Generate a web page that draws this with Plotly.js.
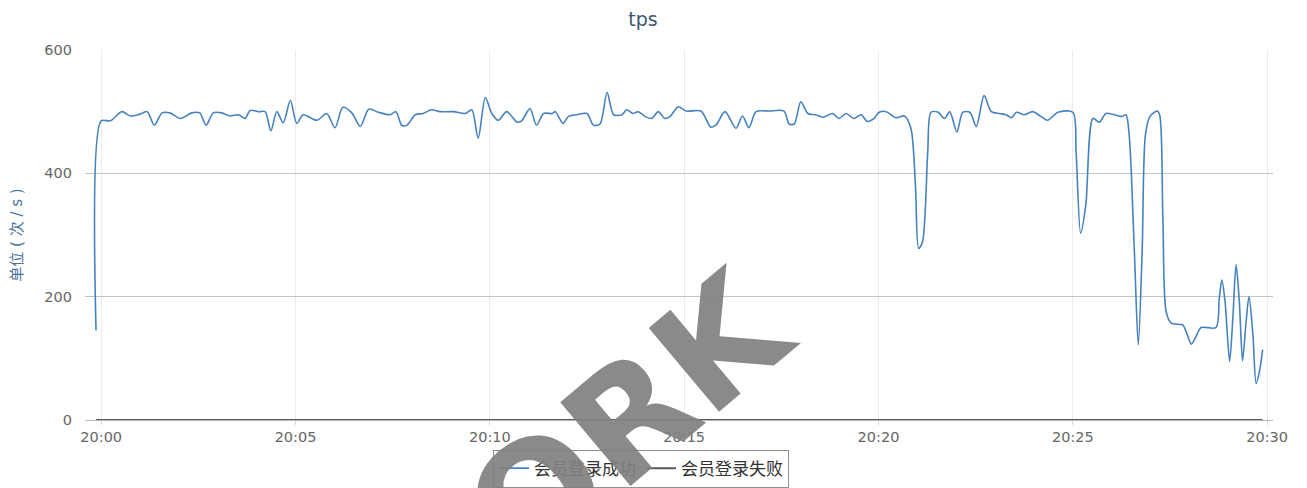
<!DOCTYPE html>
<html>
<head>
<meta charset="utf-8">
<script src="https://cdn.plot.ly/plotly-3.0.1.min.js"></script>
<style>html,body{margin:0;padding:0;background:#fff;}#chart{width:1307px;height:488px;}</style>
</head>
<body>
<div id="chart"></div>
<script>
// seconds after 20:00:00
const successSeconds = [-8,0,14,32,45,60,71,82,94,106,122,140,152,162,173,186,199,212,222,230,243,253,262,271,281,292,302,312,333,348,361,373,387,400,413,428,446,455,464,472,485,497,510,523,544,562,572,582,593,603,613,626,642,649,662,672,683,696,701,713,721,734,750,760,770,781,791,804,811,821,829,840,850,860,870,878,891,903,926,941,949,963,980,990,1000,1011,1031,1054,1062,1070,1080,1091,1103,1114,1129,1139,1150,1162,1173,1183,1193,1201,1212,1227,1240,1250,1257,1262,1268,1276,1281,1292,1302,1310,1321,1330,1341,1351,1363,1374,1387,1397,1405,1413,1425,1438,1451,1461,1477,1500,1505,1512,1520,1531,1541,1551,1564,1575,1582,1587,1595,1601,1607,1612,1619,1630,1634,1639,1644,1652,1670,1675,1683,1690,1698,1721,1726,1730,1735,1742,1747,1752,1757,1762,1767,1772,1778,1783,1788,1793];
const successTps = [145,485,485,500,493,496,500,478,498,498,489,498,498,478,498,498,493,495,489,502,500,500,469,500,482,518,481,495,486,497,474,507,498,476,504,499,495,500,478,478,495,497,503,500,500,497,503,457,523,497,486,500,483,485,505,478,497,497,500,481,492,495,497,478,480,531,495,495,503,497,500,492,489,500,489,492,508,501,501,475,478,500,473,493,474,500,501,501,480,480,516,497,495,491,497,489,497,489,495,484,489,499,500,490,493,473,381,278,289,435,499,499,489,500,467,499,499,476,526,500,497,495,490,499,495,500,492,486,499,499,435,303,349,489,483,497,495,492,495,462,273,122,273,462,492,501,495,327,176,157,154,143,123,135,150,150,197,227,192,95,165,252,192,96,154,200,138,59,78,114];
const failSeconds = [-8, 1793];
const failTps = [0, 0];
const tickSeconds = [0, 300, 600, 900, 1200, 1500, 1800];
const tickLabels = ['20:00', '20:05', '20:10', '20:15', '20:20', '20:25', '20:30'];
const seriesNames = ['会员登录成功', '会员登录失败'];

const FONT = '"DejaVu Sans", "Noto Sans CJK SC", sans-serif';

const traces = [
  {
    x: successSeconds, y: successTps, name: seriesNames[0], type: 'scatter', mode: 'lines',
    line: {color: '#4682c0', width: 1.6, shape: 'spline', smoothing: 0.8},
    hoverinfo: 'skip'
  },
  {
    x: failSeconds, y: failTps, name: seriesNames[1], type: 'scatter', mode: 'lines',
    line: {color: '#5a5a5e', width: 2},
    hoverinfo: 'skip'
  }
];

const layout = {
  width: 1307, height: 488,
  margin: {l: 85, r: 34, t: 50, b: 68, autoexpand: false},
  paper_bgcolor: '#fff', plot_bgcolor: '#fff',
  font: {family: FONT, color: '#666', size: 14},
  title: {text: 'tps', x: 0.492, xref: 'container', xanchor: 'center', y: 0.96, yref: 'container', yanchor: 'middle',
          font: {family: FONT, size: 19, color: '#3E576F'}},
  xaxis: {
    range: [-25, 1809], tickvals: tickSeconds, ticktext: tickLabels,
    showgrid: true, gridcolor: '#ececec', gridwidth: 1, zeroline: false,
    showline: true, linecolor: '#b8b8b8', linewidth: 1,
    ticks: 'outside', ticklen: 4, tickcolor: '#d8d8d8',
    tickfont: {family: FONT, size: 14.5, color: '#666'}, fixedrange: true, automargin: false
  },
  yaxis: {
    range: [0, 600], tickvals: [0, 200, 400, 600],
    showgrid: true, gridcolor: '#c4c4c4', gridwidth: 1, zeroline: false,
    showline: false, ticks: '', ticklabelstandoff: 12,
    tickfont: {family: FONT, size: 14.5, color: '#666'},
    title: {text: '单位 ( 次 / s )', standoff: 18, font: {family: FONT, size: 15, color: '#4d759e'}},
    fixedrange: true, automargin: false
  },
  showlegend: true,
  legend: {
    orientation: 'h', x: 0.468, xanchor: 'center', y: -0.08, yanchor: 'top',
    bordercolor: '#909090', borderwidth: 1, bgcolor: '#fff',
    font: {family: FONT, size: 17, color: '#333'}
  },
  annotations: [{
    text: '<b>WORK</b>', xref: 'paper', yref: 'paper', x: 0.404, y: -0.143,
    xanchor: 'center', yanchor: 'middle', showarrow: false, textangle: -40,
    font: {family: '"DejaVu Sans", sans-serif', size: 150, color: 'rgba(128,128,128,0.92)'}
  }]
};

Plotly.newPlot('chart', traces, layout, {displayModeBar: false, staticPlot: true});
</script>
</body>
</html>
